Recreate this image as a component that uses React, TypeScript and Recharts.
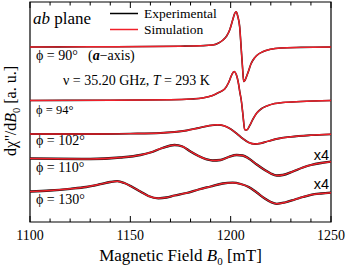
import React from 'react';
import { LineChart, Line, XAxis, YAxis, ReferenceArea } from 'recharts';

// Field values (mT) and signal (a.u., relative to each trace's baseline)
const B90 = [1100, 1130, 1160, 1175, 1185, 1191, 1194, 1196.2, 1198, 1199.5, 1201, 1202, 1202.8, 1203.5, 1204.5, 1205.3, 1205.9, 1206.5, 1207.2, 1208, 1209, 1210, 1211, 1213, 1216, 1220, 1225, 1235, 1250];
const SIM90 = [0, 0.2, 0.5, 0.8, 1.3, 2, 4, 7, 11, 17, 27, 33.5, 35.3, 31, 20, -3, -20, -34.5, -33, -29, -23.5, -17.5, -13.5, -8.5, -4.7, -2.2, -1, -0.4, 0];

const B94 = [1100, 1140, 1170, 1180, 1186, 1191, 1194, 1197, 1199, 1200.5, 1201.7, 1202.8, 1203.8, 1204.6, 1205.3, 1206.1, 1207, 1208, 1209.5, 1211, 1213, 1215.5, 1218, 1222, 1226, 1235, 1250];
const SIM94 = [0, 0.3, 0.8, 1.5, 2.5, 5, 8, 11.5, 18, 25.5, 29, 26, 18, 8, 0, -14, -29, -29.5, -25, -19, -12.5, -8, -5.5, -3, -2, -1, 0];

const B102 = [1100, 1130, 1150, 1165, 1172, 1178, 1184, 1189, 1193.5, 1197, 1200, 1203, 1206, 1209, 1212, 1215, 1219, 1224, 1230, 1240, 1250];
const SIM102 = [0, 0, 0.4, 1, 2, 3.5, 6, 8.2, 9.2, 8, 5, 0.5, -4.5, -8.5, -10, -9.3, -7, -4.5, -2.8, -1.2, -0.3];

const B110 = [1100, 1130, 1145, 1155, 1160, 1166, 1172, 1176, 1180, 1184, 1188, 1191, 1195, 1199, 1203, 1206, 1209, 1213, 1217, 1220, 1223, 1226, 1231, 1236, 1240, 1245, 1250];
const SIM110 = [0, -0.5, 1, 3.5, 6, 10.5, 13.5, 12, 7, 2.5, -0.8, -2, -1.5, 1.5, 3.5, 3, 0, -6, -11.5, -15, -17, -16.5, -13, -9, -6.5, -4.5, -3.2];

const B130 = [1100, 1110, 1120, 1128, 1135, 1140, 1143.5, 1147, 1151, 1155, 1159, 1164, 1168, 1172, 1178, 1184, 1190, 1196, 1201, 1205, 1209, 1213, 1217, 1220, 1223, 1227, 1232, 1236, 1240, 1245, 1250];
const SIM130 = [0, 1, 2.7, 4.5, 7.3, 9.5, 10.3, 8.5, 4.5, 0, -4.5, -6.8, -6, -4, -1.5, 2, 5, 8, 8.8, 7.5, 4.5, -1, -7, -10.5, -12.3, -11, -8, -5.5, -3.3, -2, -1.2];

// vertical offsets of the stacked traces
const OFFSETS = [175, 121.5, 88, 63.5, 30.5];

const X_TICKS = [1100, 1110, 1120, 1130, 1140, 1150, 1160, 1170, 1180, 1190, 1200, 1210, 1220, 1230, 1240, 1250];
const X_LABELS = [1100, 1150, 1200, 1250];

const build = (bs: number[], vs: number[], off: number) => bs.map((b, i) => ({ b, v: off + vs[i] }));

const traces = [
  build(B90, SIM90, OFFSETS[0]),
  build(B94, SIM94, OFFSETS[1]),
  build(B102, SIM102, OFFSETS[2]),
  build(B110, SIM110, OFFSETS[3]),
  build(B130, SIM130, OFFSETS[4]),
];
// the x4-magnified traces show the noisy experimental line around the fit
const EXP_WIDTHS = [1.6, 1.6, 1.8, 2.3, 2.3];

const SERIF = '"Liberation Serif", "Times New Roman", serif';
const RED = '#f0202a';

const BottomTick = (props: any) => {
  const { x, y, payload } = props;
  const major = X_LABELS.includes(payload.value);
  return (
    <g>
      <line x1={x} x2={x} y1={y} y2={y - (major ? 6 : 3.5)} stroke="#000" strokeWidth={1} />
      {major && (
        <text x={x} y={y + 18} textAnchor="middle" fontFamily={SERIF} fontSize={14} fill="#000">
          {payload.value}
        </text>
      )}
    </g>
  );
};

const TopTick = (props: any) => {
  const { x, y, payload } = props;
  const major = X_LABELS.includes(payload.value);
  return <line x1={x} x2={x} y1={y} y2={y + (major ? 6 : 3.5)} stroke="#000" strokeWidth={1} />;
};

export default function App() {
  return (
    <div style={{ position: 'absolute', left: 0, top: 0, width: 346, height: 268, background: '#fff' }}>
      <LineChart width={346} height={268} margin={{ top: 0, right: 15, bottom: 16, left: 30 }}>
        <XAxis
          dataKey="b"
          type="number"
          domain={[1100, 1250]}
          ticks={X_TICKS}
          interval={0}
          axisLine={false}
          tickLine={false}
          tickSize={0}
          tickMargin={0}
          height={30}
          tick={<BottomTick />}
          allowDataOverflow
        />
        <XAxis
          xAxisId="top"
          orientation="top"
          dataKey="b"
          type="number"
          domain={[1100, 1250]}
          ticks={X_TICKS}
          interval={0}
          axisLine={false}
          tickLine={false}
          tickSize={0}
          tickMargin={0}
          height={2}
          tick={<TopTick />}
          allowDataOverflow
        />
        <YAxis type="number" domain={[0, 220]} hide allowDataOverflow />
        <ReferenceArea x1={1100} x2={1250} y1={0} y2={220} fill="none" stroke="#000" strokeWidth={1.2} fillOpacity={0} />
        {traces.map((d, i) => (
          <Line
            key={'exp' + i}
            data={d}
            dataKey="v"
            type="monotone"
            stroke="#111"
            strokeWidth={EXP_WIDTHS[i]}
            dot={false}
            isAnimationActive={false}
          />
        ))}
        {traces.map((d, i) => (
          <Line
            key={'sim' + i}
            data={d}
            dataKey="v"
            type="monotone"
            stroke={RED}
            strokeWidth={1.4}
            dot={false}
            isAnimationActive={false}
          />
        ))}
      </LineChart>
      <svg width={346} height={268} style={{ position: 'absolute', left: 0, top: 0, pointerEvents: 'none' }}>
        <g fontFamily={SERIF} fill="#000">
          <text x={33} y={24} fontSize={17}>
            <tspan fontStyle="italic">ab</tspan> plane
          </text>
          <line x1={110} x2={138} y1={13.5} y2={13.5} stroke="#000" strokeWidth={1.5} />
          <text x={144} y={18} fontSize={13.5}>Experimental</text>
          <line x1={110} x2={138} y1={29.5} y2={29.5} stroke={RED} strokeWidth={1.5} />
          <text x={144} y={34} fontSize={13.5}>Simulation</text>

          <text x={36} y={59.5} fontSize={14}>
            ϕ = 90°
            <tspan x={88}>(</tspan>
            <tspan fontStyle="italic" fontWeight="bold">a</tspan>
            <tspan>−axis)</tspan>
          </text>
          <text x={63} y={84.5} fontSize={14}>
            ν = 35.20 GHz,  <tspan fontStyle="italic">T</tspan> = 293 K
          </text>
          <text x={36} y={113.5} fontSize={12.5}>ϕ = 94°</text>
          <text x={36} y={145} fontSize={14}>ϕ = 102°</text>
          <text x={36} y={172} fontSize={14}>ϕ = 110°</text>
          <text x={36} y={204} fontSize={14}>ϕ = 130°</text>

          <text x={180.5} y={261} fontSize={17} textAnchor="middle">
            Magnetic Field <tspan fontStyle="italic">B</tspan>
            <tspan fontSize={11} dy={4}>0</tspan>
            <tspan dy={-4}> [mT]</tspan>
          </text>

          <text transform="translate(16,111) rotate(-90)" fontSize={16} textAnchor="middle">
            dχ''/d<tspan fontStyle="italic">B</tspan>
            <tspan fontSize={10.5} dy={4}>0</tspan>
            <tspan dy={-4}> [a. u.]</tspan>
          </text>
        </g>
        <g fontFamily='"Liberation Sans", Arial, sans-serif' fontSize={14.5} fill="#000" textAnchor="end">
          <text x={329} y={160}>x4</text>
          <text x={329} y={189}>x4</text>
        </g>
      </svg>
    </div>
  );
}
